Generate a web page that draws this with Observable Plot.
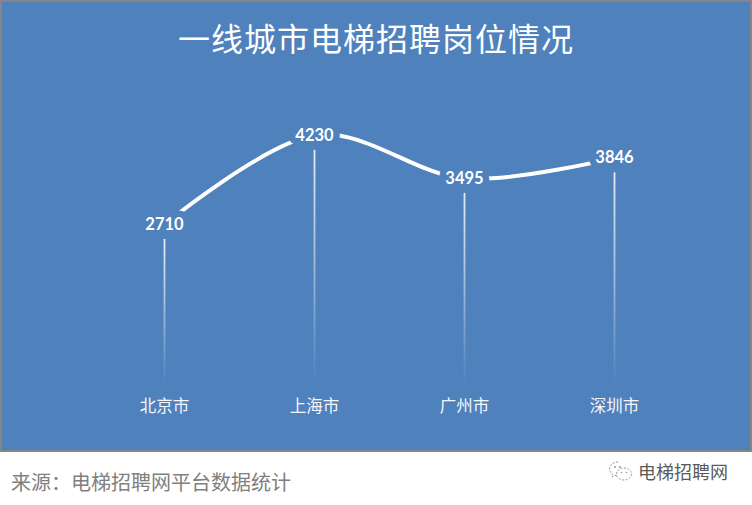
<!DOCTYPE html>
<html>
<head>
<meta charset="utf-8">
<script src="https://cdn.jsdelivr.net/npm/d3@7"></script>
<script src="https://cdn.jsdelivr.net/npm/@observablehq/plot@0.6"></script>
<style>
  html, body { margin: 0; padding: 0; background: #ffffff; }
  #page { width: 752px; height: 505px; position: relative; overflow: hidden; }
  #panel {
    width: 752px; height: 452px; box-sizing: border-box;
    border: 2px solid #858585; background: #4f81bd; position: relative;
  }
  #title {
    height: 70px; line-height: 70px; text-align: center; color: #ffffff;
    font-family: "Noto Sans CJK SC", sans-serif; font-size: 32px; font-weight: 400;
    letter-spacing: 1px;
  }
  #chart svg { display: block; }
  #footer { position: relative; height: 53px; }
  #source {
    position: absolute; left: 11px; top: 15px; color: #808080;
    font-family: "Noto Sans CJK SC", sans-serif; font-size: 20px; letter-spacing: 0px;
  }
  #brand {
    position: absolute; left: 608px; top: 6px; color: #5a5a5a; display: flex; align-items: center;
    font-family: "Noto Sans CJK SC", sans-serif; font-size: 18px;
  }
  #brand svg { margin-right: 4px; }
</style>
</head>
<body>
<div id="page">
  <div id="panel">
    <div id="title">一线城市电梯招聘岗位情况</div>
    <div id="chart"></div>
  </div>
  <div id="footer">
    <div id="source">来源：电梯招聘网平台数据统计</div>
    <div id="brand">
      <svg width="26" height="24" viewBox="0 0 26 24">
        <path d="M10 3 C4.5 3 1.5 6.5 1.5 10 C1.5 12.5 3 14.3 4.8 15.4 L4 18 L7 16.4 C8 16.7 9 16.9 10 16.9" fill="none" stroke="#9a9a9a" stroke-width="1" stroke-dasharray="2 1.5"/>
        <ellipse cx="16" cy="15" rx="7.5" ry="6" fill="none" stroke="#9a9a9a" stroke-width="1" stroke-dasharray="2 1.5"/>
        <circle cx="7" cy="8" r="1" fill="#9a9a9a"/><circle cx="12" cy="8" r="1" fill="#9a9a9a"/>
        <circle cx="13.5" cy="13.5" r="0.8" fill="#9a9a9a"/><circle cx="18.5" cy="13.5" r="0.8" fill="#9a9a9a"/>
      </svg>
      <span>电梯招聘网</span>
    </div>
  </div>
</div>
<script>
const cities = ["北京市", "上海市", "广州市", "深圳市"];
const jobs = [2710, 4230, 3495, 3846];

const data = cities.map((c, i) => ({city: c, value: jobs[i]}));
const BG = "#4f81bd";

const chart = Plot.plot({
  width: 748,
  height: 378,
  marginLeft: 161,
  marginRight: 136,
  marginTop: 47,
  marginBottom: 67,
  style: {background: "transparent", color: "#ffffff", overflow: "visible"},
  x: {type: "point", domain: cities, padding: 0, label: null},
  y: {domain: [0, 4500], axis: null},
  marks: [
    Plot.ruleX(data, {x: "city", y1: "value", y2: 0, stroke: "#ffffff", strokeWidth: 1.8, className: "drop"}),
    Plot.line(data, {x: "city", y: "value", stroke: "#ffffff", strokeWidth: 4, curve: "cardinal", tension: 0}),
    Plot.text(data, {x: "city", y: "value", text: d => String(d.value),
      fill: "#ffffff", stroke: BG, strokeWidth: 13, paintOrder: "stroke",
      fontSize: 16.5, fontWeight: "bold", fontFamily: "Lato, 'Open Sans', sans-serif"}),
    Plot.axisX({tickSize: 0, tickPadding: 17, fontSize: 16.5, fontFamily: "'Noto Sans CJK SC', sans-serif",
      fill: "#f4f6fa", label: null})
  ]
});
document.getElementById("chart").appendChild(chart);

const svg = d3.select(chart);
const defs = svg.insert("defs", ":first-child");
svg.selectAll("g.drop line, .drop line").each(function(_, i) {
  const ln = d3.select(this);
  const y1 = +ln.attr("y1"), y2 = +ln.attr("y2");
  const top = Math.min(y1, y2) + 15, bottom = Math.max(y1, y2) + 2;
  const id = "fade" + i;
  const g = defs.append("linearGradient").attr("id", id).attr("gradientUnits", "userSpaceOnUse")
    .attr("x1", 0).attr("x2", 0).attr("y1", top).attr("y2", bottom);
  g.append("stop").attr("offset", 0).attr("stop-color", "#ffffff").attr("stop-opacity", 0.85);
  g.append("stop").attr("offset", 0.5).attr("stop-color", "#ffffff").attr("stop-opacity", 0.45);
  g.append("stop").attr("offset", 1).attr("stop-color", "#ffffff").attr("stop-opacity", 0);
  ln.attr("y1", top).attr("y2", bottom).attr("stroke", `url(#${id})`);
});
</script>
</body>
</html>
